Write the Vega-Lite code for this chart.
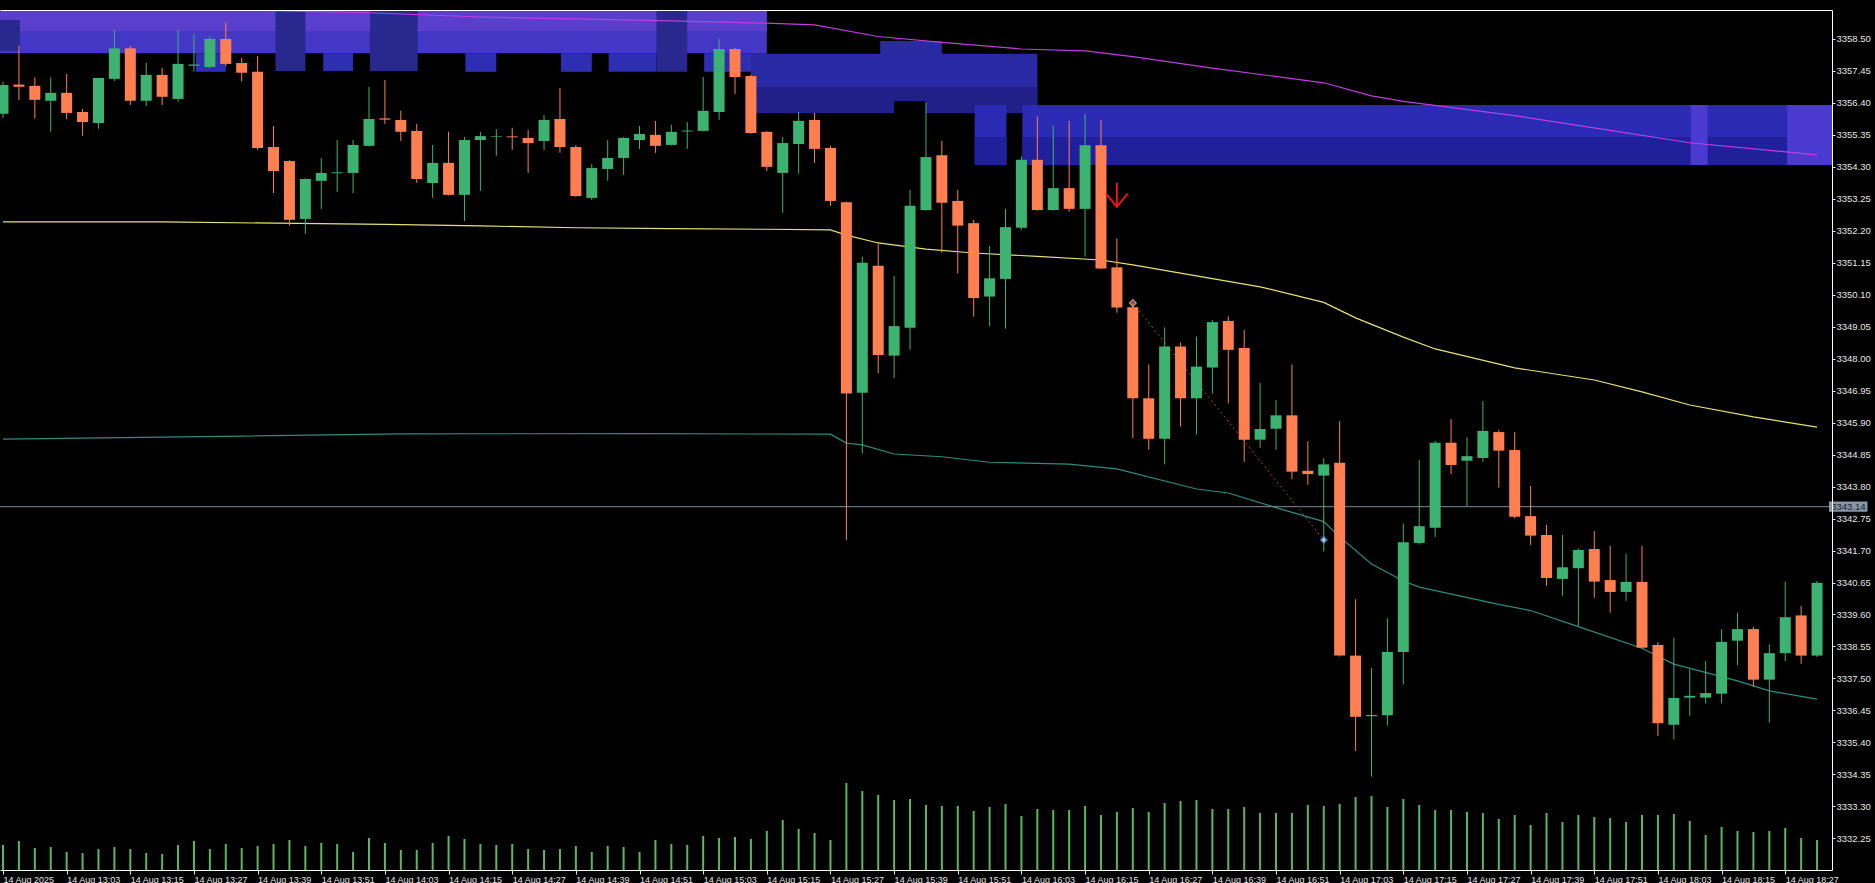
{
"$schema": "https://vega.github.io/schema/vega-lite/v6.json",
"width": 1832, "height": 860,
"autosize": {"type": "none"},
"padding": {"left": 0, "top": 10, "right": 43, "bottom": 13},
"background": "#000000",
"config": {"view": {"stroke": null}, "axis": {"grid": false, "labelOverlap": false, "labelFlush": false, "labelFont": "Liberation Sans", "labelColor": "#e6e6e6", "tickColor": "#e6e6e6", "domainColor": "#ffffff"}},
"datasets": {
"candles": [
{"t":"2025-08-14T12:51","o":3356.04,"h":3357.10,"l":3355.90,"c":3356.99,"v":250},
{"t":"2025-08-14T12:54","o":3357.00,"h":3358.27,"l":3356.50,"c":3356.93,"v":290},
{"t":"2025-08-14T12:57","o":3356.96,"h":3357.24,"l":3355.88,"c":3356.50,"v":220},
{"t":"2025-08-14T13:00","o":3356.47,"h":3357.24,"l":3355.45,"c":3356.73,"v":230},
{"t":"2025-08-14T13:03","o":3356.73,"h":3357.35,"l":3355.86,"c":3356.07,"v":180},
{"t":"2025-08-14T13:06","o":3356.10,"h":3356.20,"l":3355.32,"c":3355.77,"v":170},
{"t":"2025-08-14T13:09","o":3355.74,"h":3357.22,"l":3355.55,"c":3357.22,"v":210},
{"t":"2025-08-14T13:12","o":3357.19,"h":3358.80,"l":3357.12,"c":3358.19,"v":230},
{"t":"2025-08-14T13:15","o":3358.19,"h":3358.27,"l":3356.33,"c":3356.47,"v":210},
{"t":"2025-08-14T13:18","o":3356.47,"h":3357.72,"l":3356.30,"c":3357.32,"v":170},
{"t":"2025-08-14T13:21","o":3357.32,"h":3357.55,"l":3356.33,"c":3356.60,"v":160},
{"t":"2025-08-14T13:24","o":3356.53,"h":3358.80,"l":3356.44,"c":3357.68,"v":250},
{"t":"2025-08-14T13:27","o":3357.62,"h":3358.67,"l":3357.43,"c":3357.66,"v":290},
{"t":"2025-08-14T13:30","o":3357.58,"h":3358.58,"l":3357.54,"c":3358.50,"v":210},
{"t":"2025-08-14T13:33","o":3358.50,"h":3359.04,"l":3357.61,"c":3357.68,"v":260},
{"t":"2025-08-14T13:36","o":3357.71,"h":3357.88,"l":3357.10,"c":3357.39,"v":220},
{"t":"2025-08-14T13:39","o":3357.42,"h":3357.94,"l":3354.85,"c":3354.92,"v":240},
{"t":"2025-08-14T13:42","o":3354.95,"h":3355.64,"l":3353.44,"c":3354.16,"v":260},
{"t":"2025-08-14T13:45","o":3354.49,"h":3354.52,"l":3352.37,"c":3352.56,"v":300},
{"t":"2025-08-14T13:48","o":3352.59,"h":3353.92,"l":3352.10,"c":3353.90,"v":240},
{"t":"2025-08-14T13:51","o":3353.84,"h":3354.59,"l":3352.92,"c":3354.10,"v":270},
{"t":"2025-08-14T13:54","o":3354.09,"h":3355.18,"l":3353.48,"c":3354.12,"v":260},
{"t":"2025-08-14T13:57","o":3354.10,"h":3355.18,"l":3353.44,"c":3355.02,"v":180},
{"t":"2025-08-14T14:00","o":3354.99,"h":3356.92,"l":3354.97,"c":3355.87,"v":320},
{"t":"2025-08-14T14:03","o":3355.89,"h":3357.15,"l":3355.71,"c":3355.85,"v":270},
{"t":"2025-08-14T14:06","o":3355.84,"h":3356.14,"l":3355.15,"c":3355.45,"v":200},
{"t":"2025-08-14T14:09","o":3355.48,"h":3355.71,"l":3353.77,"c":3353.90,"v":200},
{"t":"2025-08-14T14:12","o":3353.77,"h":3355.02,"l":3353.28,"c":3354.43,"v":270},
{"t":"2025-08-14T14:15","o":3354.43,"h":3355.45,"l":3353.36,"c":3353.38,"v":340},
{"t":"2025-08-14T14:18","o":3353.38,"h":3355.28,"l":3352.52,"c":3355.18,"v":310},
{"t":"2025-08-14T14:21","o":3355.18,"h":3355.45,"l":3353.51,"c":3355.31,"v":260},
{"t":"2025-08-14T14:24","o":3355.28,"h":3355.54,"l":3354.66,"c":3355.30,"v":250},
{"t":"2025-08-14T14:27","o":3355.30,"h":3355.58,"l":3354.85,"c":3355.27,"v":260},
{"t":"2025-08-14T14:30","o":3355.25,"h":3355.51,"l":3354.10,"c":3355.08,"v":210},
{"t":"2025-08-14T14:33","o":3355.15,"h":3356.00,"l":3354.85,"c":3355.84,"v":200},
{"t":"2025-08-14T14:36","o":3355.87,"h":3356.89,"l":3354.76,"c":3354.95,"v":210},
{"t":"2025-08-14T14:39","o":3354.95,"h":3355.02,"l":3353.31,"c":3353.34,"v":240},
{"t":"2025-08-14T14:42","o":3353.28,"h":3354.39,"l":3353.21,"c":3354.26,"v":180},
{"t":"2025-08-14T14:45","o":3354.23,"h":3355.18,"l":3353.84,"c":3354.59,"v":240},
{"t":"2025-08-14T14:48","o":3354.59,"h":3355.27,"l":3354.03,"c":3355.25,"v":230},
{"t":"2025-08-14T14:51","o":3355.18,"h":3355.64,"l":3354.89,"c":3355.38,"v":180},
{"t":"2025-08-14T14:54","o":3355.35,"h":3355.81,"l":3354.76,"c":3354.99,"v":300},
{"t":"2025-08-14T14:57","o":3355.02,"h":3355.68,"l":3355.00,"c":3355.45,"v":260},
{"t":"2025-08-14T15:00","o":3355.46,"h":3355.77,"l":3354.89,"c":3355.49,"v":250},
{"t":"2025-08-14T15:03","o":3355.48,"h":3357.25,"l":3355.46,"c":3356.14,"v":340},
{"t":"2025-08-14T15:06","o":3356.10,"h":3358.50,"l":3355.84,"c":3358.17,"v":320},
{"t":"2025-08-14T15:09","o":3358.17,"h":3358.20,"l":3356.69,"c":3357.25,"v":330},
{"t":"2025-08-14T15:12","o":3357.28,"h":3357.32,"l":3355.38,"c":3355.41,"v":310},
{"t":"2025-08-14T15:15","o":3355.45,"h":3355.47,"l":3354.16,"c":3354.30,"v":390},
{"t":"2025-08-14T15:18","o":3354.10,"h":3355.28,"l":3352.79,"c":3355.08,"v":500},
{"t":"2025-08-14T15:21","o":3355.05,"h":3356.10,"l":3354.07,"c":3355.81,"v":410},
{"t":"2025-08-14T15:24","o":3355.84,"h":3356.07,"l":3354.43,"c":3354.89,"v":370},
{"t":"2025-08-14T15:27","o":3354.92,"h":3354.99,"l":3353.02,"c":3353.18,"v":300},
{"t":"2025-08-14T15:30","o":3353.14,"h":3353.16,"l":3342.05,"c":3346.86,"v":870},
{"t":"2025-08-14T15:33","o":3346.88,"h":3351.35,"l":3344.89,"c":3351.15,"v":790},
{"t":"2025-08-14T15:36","o":3351.05,"h":3351.84,"l":3347.52,"c":3348.12,"v":750},
{"t":"2025-08-14T15:39","o":3348.10,"h":3350.72,"l":3347.36,"c":3349.07,"v":700},
{"t":"2025-08-14T15:42","o":3349.02,"h":3353.54,"l":3348.29,"c":3353.02,"v":710},
{"t":"2025-08-14T15:45","o":3352.88,"h":3356.41,"l":3352.86,"c":3354.62,"v":650},
{"t":"2025-08-14T15:48","o":3354.68,"h":3355.15,"l":3351.48,"c":3353.12,"v":640},
{"t":"2025-08-14T15:51","o":3353.18,"h":3353.54,"l":3350.80,"c":3352.37,"v":640},
{"t":"2025-08-14T15:54","o":3352.45,"h":3352.56,"l":3349.38,"c":3349.99,"v":590},
{"t":"2025-08-14T15:57","o":3350.04,"h":3351.70,"l":3349.07,"c":3350.64,"v":630},
{"t":"2025-08-14T16:00","o":3350.62,"h":3352.92,"l":3348.99,"c":3352.32,"v":660},
{"t":"2025-08-14T16:03","o":3352.30,"h":3354.64,"l":3352.23,"c":3354.53,"v":540},
{"t":"2025-08-14T16:06","o":3354.53,"h":3355.95,"l":3352.86,"c":3352.88,"v":610},
{"t":"2025-08-14T16:09","o":3352.88,"h":3355.64,"l":3352.86,"c":3353.60,"v":600},
{"t":"2025-08-14T16:12","o":3353.60,"h":3355.81,"l":3352.83,"c":3352.92,"v":600},
{"t":"2025-08-14T16:15","o":3352.92,"h":3356.04,"l":3351.35,"c":3355.01,"v":640},
{"t":"2025-08-14T16:18","o":3355.01,"h":3355.84,"l":3350.94,"c":3350.96,"v":550},
{"t":"2025-08-14T16:21","o":3351.00,"h":3351.95,"l":3349.51,"c":3349.68,"v":580},
{"t":"2025-08-14T16:24","o":3349.69,"h":3349.75,"l":3345.39,"c":3346.70,"v":620},
{"t":"2025-08-14T16:27","o":3346.70,"h":3347.81,"l":3345.01,"c":3345.37,"v":580},
{"t":"2025-08-14T16:30","o":3345.37,"h":3349.03,"l":3344.53,"c":3348.40,"v":670},
{"t":"2025-08-14T16:33","o":3348.40,"h":3348.53,"l":3345.77,"c":3346.70,"v":690},
{"t":"2025-08-14T16:36","o":3346.70,"h":3348.73,"l":3345.51,"c":3347.74,"v":700},
{"t":"2025-08-14T16:39","o":3347.71,"h":3349.27,"l":3346.85,"c":3349.20,"v":610},
{"t":"2025-08-14T16:42","o":3349.24,"h":3349.39,"l":3346.53,"c":3348.29,"v":610},
{"t":"2025-08-14T16:45","o":3348.35,"h":3348.94,"l":3344.61,"c":3345.34,"v":630},
{"t":"2025-08-14T16:48","o":3345.34,"h":3347.21,"l":3345.07,"c":3345.69,"v":570},
{"t":"2025-08-14T16:51","o":3345.70,"h":3346.64,"l":3345.01,"c":3346.14,"v":570},
{"t":"2025-08-14T16:54","o":3346.14,"h":3347.81,"l":3344.04,"c":3344.29,"v":570},
{"t":"2025-08-14T16:57","o":3344.32,"h":3345.29,"l":3343.86,"c":3344.21,"v":650},
{"t":"2025-08-14T17:00","o":3344.16,"h":3344.73,"l":3341.67,"c":3344.53,"v":640},
{"t":"2025-08-14T17:03","o":3344.58,"h":3345.95,"l":3338.22,"c":3338.25,"v":660},
{"t":"2025-08-14T17:06","o":3338.25,"h":3340.10,"l":3335.12,"c":3336.24,"v":730},
{"t":"2025-08-14T17:09","o":3336.26,"h":3337.84,"l":3334.28,"c":3336.30,"v":740},
{"t":"2025-08-14T17:12","o":3336.29,"h":3339.48,"l":3335.95,"c":3338.37,"v":630},
{"t":"2025-08-14T17:15","o":3338.37,"h":3342.59,"l":3337.30,"c":3341.97,"v":710},
{"t":"2025-08-14T17:18","o":3341.95,"h":3344.67,"l":3341.90,"c":3342.50,"v":650},
{"t":"2025-08-14T17:21","o":3342.45,"h":3345.30,"l":3342.15,"c":3345.24,"v":600},
{"t":"2025-08-14T17:24","o":3345.24,"h":3346.02,"l":3344.21,"c":3344.51,"v":600},
{"t":"2025-08-14T17:27","o":3344.65,"h":3345.42,"l":3343.16,"c":3344.80,"v":580},
{"t":"2025-08-14T17:30","o":3344.74,"h":3346.61,"l":3344.62,"c":3345.63,"v":570},
{"t":"2025-08-14T17:33","o":3345.59,"h":3345.66,"l":3343.77,"c":3344.98,"v":510},
{"t":"2025-08-14T17:36","o":3345.00,"h":3345.59,"l":3342.76,"c":3342.81,"v":550},
{"t":"2025-08-14T17:39","o":3342.83,"h":3343.82,"l":3341.88,"c":3342.19,"v":450},
{"t":"2025-08-14T17:42","o":3342.21,"h":3342.54,"l":3340.54,"c":3340.80,"v":570},
{"t":"2025-08-14T17:45","o":3340.77,"h":3342.21,"l":3340.21,"c":3341.15,"v":480},
{"t":"2025-08-14T17:48","o":3341.12,"h":3341.77,"l":3339.22,"c":3341.72,"v":550},
{"t":"2025-08-14T17:51","o":3341.75,"h":3342.34,"l":3340.15,"c":3340.68,"v":530},
{"t":"2025-08-14T17:54","o":3340.73,"h":3341.86,"l":3339.66,"c":3340.34,"v":520},
{"t":"2025-08-14T17:57","o":3340.34,"h":3341.60,"l":3340.04,"c":3340.67,"v":480},
{"t":"2025-08-14T18:00","o":3340.67,"h":3341.86,"l":3338.49,"c":3338.51,"v":550},
{"t":"2025-08-14T18:03","o":3338.60,"h":3338.69,"l":3335.61,"c":3336.03,"v":550},
{"t":"2025-08-14T18:06","o":3335.98,"h":3338.84,"l":3335.50,"c":3336.86,"v":560},
{"t":"2025-08-14T18:09","o":3336.87,"h":3337.80,"l":3336.27,"c":3336.93,"v":490},
{"t":"2025-08-14T18:12","o":3336.87,"h":3338.07,"l":3336.68,"c":3337.02,"v":350},
{"t":"2025-08-14T18:15","o":3337.00,"h":3339.12,"l":3336.68,"c":3338.70,"v":430},
{"t":"2025-08-14T18:18","o":3338.74,"h":3339.66,"l":3337.94,"c":3339.12,"v":390},
{"t":"2025-08-14T18:21","o":3339.12,"h":3339.20,"l":3337.23,"c":3337.46,"v":380},
{"t":"2025-08-14T18:24","o":3337.46,"h":3338.62,"l":3336.05,"c":3338.33,"v":390},
{"t":"2025-08-14T18:27","o":3338.33,"h":3340.68,"l":3338.07,"c":3339.51,"v":420},
{"t":"2025-08-14T18:30","o":3339.57,"h":3339.88,"l":3337.98,"c":3338.25,"v":320},
{"t":"2025-08-14T18:33","o":3338.25,"h":3340.70,"l":3338.20,"c":3340.64,"v":300}
],
"zones": [
{"t1":"2025-08-14T12:48:00","t2":"2025-08-14T15:15:00","p1":3358.03,"p2":3359.6,"z":"band"},
{"t1":"2025-08-14T12:48:00","t2":"2025-08-14T15:15:00","p1":3358.75,"p2":3359.6,"z":"violet"},
{"t1":"2025-08-14T13:27:22","t2":"2025-08-14T13:33:00","p1":3357.42,"p2":3358.03,"z":"ext"},
{"t1":"2025-08-14T13:42:22","t2":"2025-08-14T13:48:00","p1":3357.45,"p2":3359.6,"z":"dark"},
{"t1":"2025-08-14T13:51:22","t2":"2025-08-14T13:57:00","p1":3357.45,"p2":3358.03,"z":"ext"},
{"t1":"2025-08-14T14:00:11","t2":"2025-08-14T14:09:11","p1":3357.45,"p2":3359.6,"z":"dark"},
{"t1":"2025-08-14T14:18:11","t2":"2025-08-14T14:24:00","p1":3357.42,"p2":3358.03,"z":"ext"},
{"t1":"2025-08-14T14:36:11","t2":"2025-08-14T14:42:00","p1":3357.42,"p2":3358.03,"z":"ext"},
{"t1":"2025-08-14T14:45:11","t2":"2025-08-14T14:54:11","p1":3357.42,"p2":3358.03,"z":"ext"},
{"t1":"2025-08-14T14:54:11","t2":"2025-08-14T15:00:00","p1":3357.42,"p2":3359.6,"z":"dark"},
{"t1":"2025-08-14T15:03:11","t2":"2025-08-14T15:15:00","p1":3357.42,"p2":3358.03,"z":"ext"},
{"t1":"2025-08-14T12:48:00","t2":"2025-08-14T12:54:11","p1":3358.11,"p2":3359.12,"z":"dark"},
{"t1":"2025-08-14T15:12:00","t2":"2025-08-14T16:06:00","p1":3356.07,"p2":3358.01,"z":"mid"},
{"t1":"2025-08-14T15:36:22","t2":"2025-08-14T15:48:00","p1":3358.0,"p2":3358.43,"z":"mid"},
{"t1":"2025-08-14T15:12:00","t2":"2025-08-14T16:06:00","p1":3356.07,"p2":3356.92,"z":"middark"},
{"t1":"2025-08-14T15:39:00","t2":"2025-08-14T15:45:00","p1":3356.06,"p2":3356.46,"z":"notch"},
{"t1":"2025-08-14T15:54:11","t2":"2025-08-14T16:00:11","p1":3354.36,"p2":3356.33,"z":"right"},
{"t1":"2025-08-14T16:03:11","t2":"2025-08-14T18:36:00","p1":3354.36,"p2":3356.33,"z":"right"},
{"t1":"2025-08-14T15:54:11","t2":"2025-08-14T16:00:11","p1":3354.36,"p2":3355.28,"z":"rightdark"},
{"t1":"2025-08-14T16:03:11","t2":"2025-08-14T18:36:00","p1":3354.36,"p2":3355.28,"z":"rightdark"},
{"t1":"2025-08-14T18:09:11","t2":"2025-08-14T18:12:22","p1":3354.36,"p2":3356.33,"z":"light"},
{"t1":"2025-08-14T18:27:22","t2":"2025-08-14T18:36:00","p1":3354.36,"p2":3356.33,"z":"light"}
],
"mag": [
{"t":"2025-08-14T13:15","p":3359.62},{"t":"2025-08-14T13:39","p":3359.44},{"t":"2025-08-14T14:00","p":3359.36},{"t":"2025-08-14T14:21","p":3359.22},{"t":"2025-08-14T14:39","p":3359.16},{"t":"2025-08-14T14:57","p":3359.09},{"t":"2025-08-14T15:15","p":3359.02},{"t":"2025-08-14T15:24","p":3358.96},{"t":"2025-08-14T15:36","p":3358.58},{"t":"2025-08-14T15:48","p":3358.39},{"t":"2025-08-14T16:03","p":3358.17},{"t":"2025-08-14T16:15","p":3358.11},{"t":"2025-08-14T16:24","p":3357.92},{"t":"2025-08-14T16:39","p":3357.54},{"t":"2025-08-14T17:00","p":3357.06},{"t":"2025-08-14T17:09","p":3356.63},{"t":"2025-08-14T17:15","p":3356.45},{"t":"2025-08-14T17:36","p":3355.98},{"t":"2025-08-14T17:54","p":3355.50},{"t":"2025-08-14T18:09","p":3355.09},{"t":"2025-08-14T18:33","p":3354.69}
],
"yel": [
{"t":"2025-08-14T12:51","p":3352.49},{"t":"2025-08-14T13:21","p":3352.49},{"t":"2025-08-14T14:03","p":3352.41},{"t":"2025-08-14T14:21","p":3352.36},{"t":"2025-08-14T14:39","p":3352.30},{"t":"2025-08-14T14:57","p":3352.27},{"t":"2025-08-14T15:15","p":3352.25},{"t":"2025-08-14T15:27","p":3352.23},{"t":"2025-08-14T15:30","p":3352.06},{"t":"2025-08-14T15:36","p":3351.80},{"t":"2025-08-14T15:45","p":3351.60},{"t":"2025-08-14T15:54","p":3351.47},{"t":"2025-08-14T16:06","p":3351.36},{"t":"2025-08-14T16:18","p":3351.24},{"t":"2025-08-14T16:24","p":3351.08},{"t":"2025-08-14T16:36","p":3350.72},{"t":"2025-08-14T16:48","p":3350.36},{"t":"2025-08-14T17:00","p":3349.85},{"t":"2025-08-14T17:06","p":3349.34},{"t":"2025-08-14T17:15","p":3348.71},{"t":"2025-08-14T17:21","p":3348.32},{"t":"2025-08-14T17:36","p":3347.70},{"t":"2025-08-14T17:51","p":3347.30},{"t":"2025-08-14T18:00","p":3346.91},{"t":"2025-08-14T18:09","p":3346.48},{"t":"2025-08-14T18:21","p":3346.09},{"t":"2025-08-14T18:33","p":3345.75}
],
"teal": [
{"t":"2025-08-14T12:51","p":3345.36},{"t":"2025-08-14T13:36","p":3345.46},{"t":"2025-08-14T14:06","p":3345.53},{"t":"2025-08-14T14:51","p":3345.54},{"t":"2025-08-14T15:27","p":3345.52},{"t":"2025-08-14T15:30","p":3345.23},{"t":"2025-08-14T15:33","p":3345.17},{"t":"2025-08-14T15:39","p":3344.87},{"t":"2025-08-14T15:48","p":3344.78},{"t":"2025-08-14T15:57","p":3344.60},{"t":"2025-08-14T16:12","p":3344.54},{"t":"2025-08-14T16:21","p":3344.38},{"t":"2025-08-14T16:36","p":3343.72},{"t":"2025-08-14T16:42","p":3343.59},{"t":"2025-08-14T16:51","p":3343.11},{"t":"2025-08-14T17:00","p":3342.65},{"t":"2025-08-14T17:03","p":3342.15},{"t":"2025-08-14T17:09","p":3341.26},{"t":"2025-08-14T17:15","p":3340.70},{"t":"2025-08-14T17:18","p":3340.50},{"t":"2025-08-14T17:33","p":3339.93},{"t":"2025-08-14T17:39","p":3339.73},{"t":"2025-08-14T17:48","p":3339.20},{"t":"2025-08-14T18:00","p":3338.49},{"t":"2025-08-14T18:06","p":3337.97},{"t":"2025-08-14T18:18","p":3337.42},{"t":"2025-08-14T18:24","p":3337.09},{"t":"2025-08-14T18:33","p":3336.82}
],
"trade": [
{"t":"2025-08-14T16:24","p":3349.83,"side":"sell"},
{"t":"2025-08-14T17:00","p":3342.05,"side":"buy"}
],
"signal": [{"t":"2025-08-14T16:21","p":3353.38}],
"last": [{"p":3343.14,"p1":3342.97,"p2":3343.31,"t1":"2025-08-14T18:35:15","t2":"2025-08-14T18:42:30","tl":"2025-08-14T18:35:40","lab":"3343.14"}]
},
"layer": [
{"layer": [
{"data": {"name": "zones"}, "mark": {"type": "rect", "clip": true},
 "encoding": {
  "x": {"field": "t1", "type": "temporal", "scale": {"domain": [{"year":2025,"month":8,"date":14,"hours":12,"minutes":51,"seconds":22,"milliseconds":500},{"year":2025,"month":8,"date":14,"hours":18,"minutes":34,"seconds":52,"milliseconds":500}], "nice": false},
        "axis": {"orient": "top", "labels": false, "ticks": false, "domain": true, "domainColor": "#ffffff", "zindex": 2, "title": null}},
  "x2": {"field": "t2"},
  "y": {"field": "p1", "type": "quantitative", "scale": {"domain": [3331.21, 3359.45], "zero": false, "nice": false},
        "axis": {"orient": "right", "values": [3332.25,3333.30,3334.35,3335.40,3336.45,3337.50,3338.55,3339.60,3340.65,3341.70,3342.75,3343.80,3344.85,3345.90,3346.95,3348.00,3349.05,3350.10,3351.15,3352.20,3353.25,3354.30,3355.35,3356.40,3357.45,3358.50], "tickCount": 40, "format": ".2f", "tickSize": 3, "labelPadding": 1, "labelFontSize": 9.5, "labelOverlap": false, "labelFlush": false, "domainColor": "#ffffff", "zindex": 2, "title": null}},
  "y2": {"field": "p2"},
  "color": {"field": "z", "type": "nominal", "legend": null, "scale": {"domain": ["band","violet","ext","dark","mid","middark","notch","right","rightdark","light"], "range": ["#4537c6","#5a3fcc","#2e2eb3","#28288f","#2929a4","#202088","#000000","#2a2ab5","#20209a","#4a3ad0"]}}
 }},
{"data": {"name": "mag"}, "mark": {"type": "line", "color": "#bb3fe0", "strokeWidth": 1.2, "clip": true},
 "encoding": {
  "x": {"field": "t", "type": "temporal"},
  "y": {"field": "p", "type": "quantitative"}
 }},
{"data": {"name": "yel"}, "mark": {"type": "line", "color": "#e6e07a", "strokeWidth": 1.2, "clip": true},
 "encoding": {
  "x": {"field": "t", "type": "temporal"},
  "y": {"field": "p", "type": "quantitative"}
 }},
{"data": {"name": "teal"}, "mark": {"type": "line", "color": "#2e8b80", "strokeWidth": 1.2, "clip": true},
 "encoding": {
  "x": {"field": "t", "type": "temporal"},
  "y": {"field": "p", "type": "quantitative"}
 }},
{"data": {"name": "last"}, "mark": {"type": "rule", "color": "#7d8d99", "strokeWidth": 1},
 "encoding": {
  "y": {"field": "p", "type": "quantitative"}
 }},
{"data": {"name": "trade"}, "mark": {"type": "line", "color": "#b5402d", "strokeWidth": 1, "strokeDash": [2, 3], "clip": true},
 "encoding": {
  "x": {"field": "t", "type": "temporal"},
  "y": {"field": "p", "type": "quantitative"}
 }},
{"data": {"name": "candles"}, "mark": {"type": "rule", "strokeWidth": 1, "clip": true},
 "encoding": {
  "x": {"field": "t", "type": "temporal"},
  "y": {"field": "l", "type": "quantitative"},
  "y2": {"field": "h"},
  "color": {"condition": {"test": "datum.c >= datum.o", "value": "#3cb371"}, "value": "#ff7f50"}
 }},
{"data": {"name": "candles"}, "mark": {"type": "bar", "width": 11, "minBandSize": 1, "clip": true},
 "encoding": {
  "x": {"field": "t", "type": "temporal"},
  "y": {"field": "o", "type": "quantitative"},
  "y2": {"field": "c"},
  "color": {"condition": {"test": "datum.c >= datum.o", "value": "#3cb371"}, "value": "#ff7f50"}
 }},
{"data": {"name": "trade"}, "mark": {"type": "point", "shape": "diamond", "size": 45, "filled": true, "strokeWidth": 1.3, "clip": true},
 "encoding": {
  "x": {"field": "t", "type": "temporal"},
  "y": {"field": "p", "type": "quantitative"},
  "fill": {"condition": {"test": "datum.side === 'sell'", "value": "#d9604a"}, "value": "#ffffff"},
  "stroke": {"condition": {"test": "datum.side === 'sell'", "value": "#f0d0c0"}, "value": "#3a8ee8"}
 }},
{"data": {"name": "signal"}, "mark": {"type": "point", "shape": "M0,-1L0,1M-0.9,-0.1L0,1L0.9,-0.1", "size": 576, "filled": false, "stroke": "#e8141c", "strokeWidth": 2, "opacity": 1, "clip": true},
 "encoding": {
  "x": {"field": "t", "type": "temporal"},
  "y": {"field": "p", "type": "quantitative"}
 }},
{"data": {"name": "last"}, "mark": {"type": "rect", "color": "#8796a8", "clip": false},
 "encoding": {
  "x": {"field": "t1", "type": "temporal"},
  "x2": {"field": "t2"},
  "y": {"field": "p1", "type": "quantitative"},
  "y2": {"field": "p2"}
 }},
{"data": {"name": "last"}, "mark": {"type": "text", "color": "#18202a", "font": "Liberation Sans", "fontSize": 9.5, "align": "left", "baseline": "middle", "clip": false},
 "encoding": {
  "x": {"field": "tl", "type": "temporal"},
  "y": {"field": "p", "type": "quantitative"},
  "text": {"field": "lab"}
 }}
]},
{"data": {"name": "candles"}, "mark": {"type": "bar", "width": 2, "color": "#5cb85c", "clip": true},
 "encoding": {
  "x": {"field": "t", "type": "temporal", "scale": {"domain": [{"year":2025,"month":8,"date":14,"hours":12,"minutes":51,"seconds":22,"milliseconds":500},{"year":2025,"month":8,"date":14,"hours":18,"minutes":34,"seconds":52,"milliseconds":500}], "nice": false},
        "axis": {"orient": "bottom", "values": [
          {"year":2025,"month":8,"date":14,"hours":12,"minutes":51},
          {"year":2025,"month":8,"date":14,"hours":13,"minutes":3},{"year":2025,"month":8,"date":14,"hours":13,"minutes":15},{"year":2025,"month":8,"date":14,"hours":13,"minutes":27},{"year":2025,"month":8,"date":14,"hours":13,"minutes":39},{"year":2025,"month":8,"date":14,"hours":13,"minutes":51},
          {"year":2025,"month":8,"date":14,"hours":14,"minutes":3},{"year":2025,"month":8,"date":14,"hours":14,"minutes":15},{"year":2025,"month":8,"date":14,"hours":14,"minutes":27},{"year":2025,"month":8,"date":14,"hours":14,"minutes":39},{"year":2025,"month":8,"date":14,"hours":14,"minutes":51},
          {"year":2025,"month":8,"date":14,"hours":15,"minutes":3},{"year":2025,"month":8,"date":14,"hours":15,"minutes":15},{"year":2025,"month":8,"date":14,"hours":15,"minutes":27},{"year":2025,"month":8,"date":14,"hours":15,"minutes":39},{"year":2025,"month":8,"date":14,"hours":15,"minutes":51},
          {"year":2025,"month":8,"date":14,"hours":16,"minutes":3},{"year":2025,"month":8,"date":14,"hours":16,"minutes":15},{"year":2025,"month":8,"date":14,"hours":16,"minutes":27},{"year":2025,"month":8,"date":14,"hours":16,"minutes":39},{"year":2025,"month":8,"date":14,"hours":16,"minutes":51},
          {"year":2025,"month":8,"date":14,"hours":17,"minutes":3},{"year":2025,"month":8,"date":14,"hours":17,"minutes":15},{"year":2025,"month":8,"date":14,"hours":17,"minutes":27},{"year":2025,"month":8,"date":14,"hours":17,"minutes":39},{"year":2025,"month":8,"date":14,"hours":17,"minutes":51},
          {"year":2025,"month":8,"date":14,"hours":18,"minutes":3},{"year":2025,"month":8,"date":14,"hours":18,"minutes":15},{"year":2025,"month":8,"date":14,"hours":18,"minutes":27}],
          "tickCount": 60,
          "labelExpr": "hours(datum.value) == 12 ? '14 Aug 2025' : timeFormat(datum.value, '%d %b %H:%M')",
          "labelAlign": "left", "labelBaseline": "top", "labelPadding": 1, "tickSize": 4, "labelFontSize": 9, "labelOverlap": false, "labelFlush": false, "domainColor": "#ffffff", "zindex": 2, "title": null}},
  "y": {"field": "v", "type": "quantitative", "scale": {"domain": [0, 8600], "nice": false, "zero": true}, "axis": null}
 }}
],
"resolve": {"scale": {"y": "independent"}}
}
